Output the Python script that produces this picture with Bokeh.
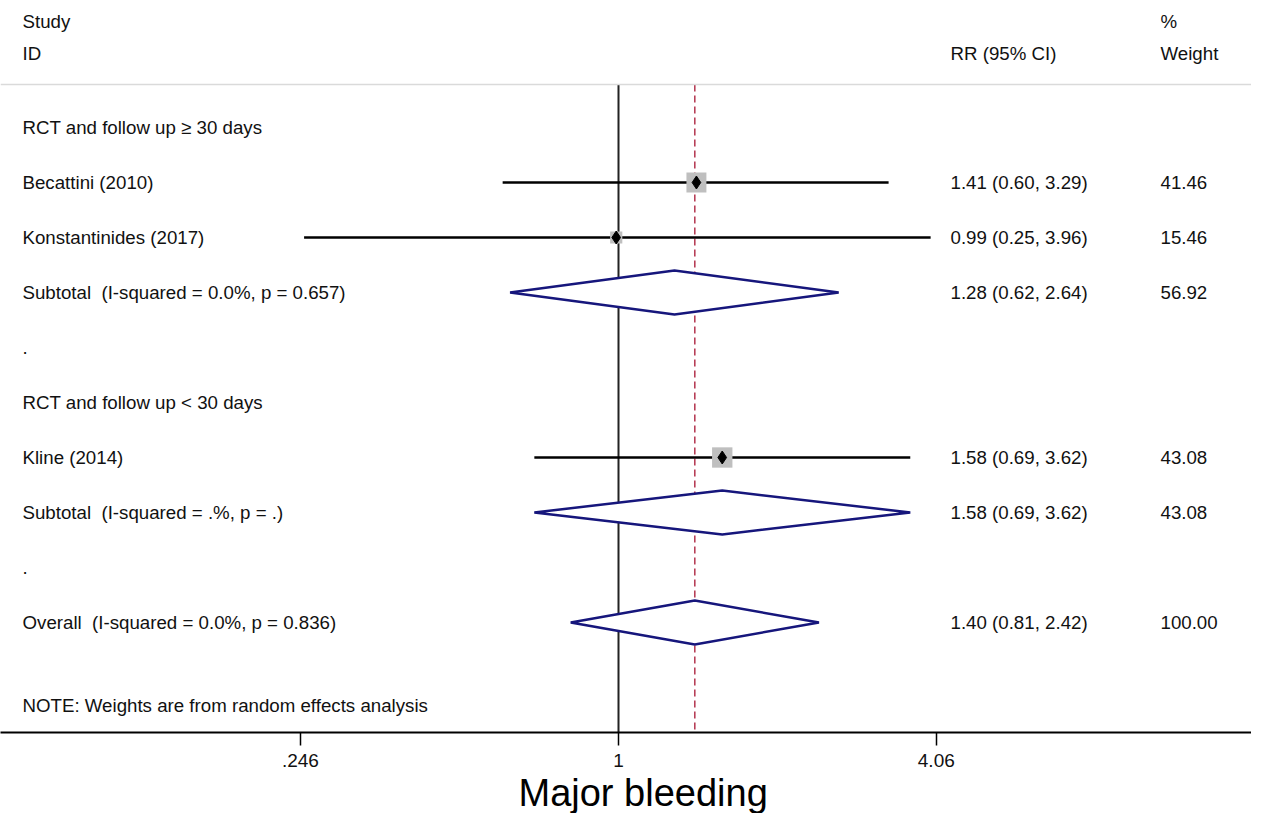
import math
from bokeh.plotting import figure
from bokeh.models import Range1d, FixedTicker, Span, Title
from bokeh.core.properties import value
from bokeh.embed import file_html
from bokeh.resources import INLINE

# ---------------- data ----------------
group_names = ["RCT and follow up \u2265 30 days", "RCT and follow up < 30 days"]
study_names = ["Becattini (2010)", "Konstantinides (2017)", "Kline (2014)"]
study_group = [0, 0, 1]
study_rr = [1.41, 0.99, 1.58]
study_lo = [0.60, 0.25, 0.69]
study_hi = [3.29, 3.96, 3.62]
study_weight = [41.46, 15.46, 43.08]

sub_rr = [1.28, 1.58]
sub_lo = [0.62, 0.69]
sub_hi = [2.64, 3.62]
sub_weight = [56.92, 43.08]
sub_i2 = ["0.0", "."]
sub_p = ["0.657", "."]

overall_rr = 1.40
overall_lo = 0.81
overall_hi = 2.42
overall_weight = 100.00
overall_i2 = "0.0"
overall_p = "0.836"

tick_values = [0.246, 1, 4.06]
tick_labels = [".246", "1", "4.06"]

note_text = "NOTE: Weights are from random effects analysis"
x_title = "Major bleeding"

# ---------------- layout constants ----------------
W, H = 1251, 813
AXIS_PX = 732
BOTTOM = H - AXIS_PX
PX_PER_LN = 226.8
ONE_PX = 618
ROW_PX = 55
ROW0_PX = 127
FONT = "Liberation Sans"
TXT = "#111111"
NAVY = "#16167c"
FS = "18.7px"


def px_to_x(px):
    return math.exp((px - ONE_PX) / PX_PER_LN)


def px_to_row(py):
    return (py - ROW0_PX) / ROW_PX


LEFT_COL = px_to_x(22)
RR_COL = px_to_x(950)
W_COL = px_to_x(1160)
AXIS_ROW = px_to_row(AXIS_PX)

x_range = Range1d(px_to_x(0), px_to_x(W))
y_range = Range1d(AXIS_ROW, px_to_row(0))

p = figure(width=W, height=H, x_axis_type="log", x_range=x_range, y_range=y_range,
           y_axis_location=None, toolbar_location=None, output_backend="svg",
           min_border_left=0, min_border_right=0, min_border_top=0,
           min_border_bottom=BOTTOM)
p.outline_line_color = None
p.xgrid.grid_line_color = None
p.ygrid.grid_line_color = None
p.background_fill_color = "white"
p.border_fill_color = "white"

# ---------------- rows ----------------
left_txt, left_y = [], []
rr_txt, w_txt, col_y = [], [], []
st_x, st_lo, st_hi, st_y, st_w = [], [], [], [], []
dia_xs, dia_ys = [], []


def fmt_ci(r, lo, hi):
    return f"{r:.2f} ({lo:.2f}, {hi:.2f})"


def add_diamond(r, lo, hi, row):
    dia_xs.append([lo, r, hi, r])
    dia_ys.append([row, row - 0.4, row, row + 0.4])


row = 0
for g, gname in enumerate(group_names):
    left_txt.append(gname); left_y.append(row); row += 1
    for i, name in enumerate(study_names):
        if study_group[i] != g:
            continue
        left_txt.append(name); left_y.append(row)
        rr_txt.append(fmt_ci(study_rr[i], study_lo[i], study_hi[i]))
        w_txt.append(f"{study_weight[i]:.2f}"); col_y.append(row)
        st_x.append(study_rr[i]); st_lo.append(study_lo[i]); st_hi.append(study_hi[i])
        st_y.append(row); st_w.append(study_weight[i])
        row += 1
    left_txt.append(f"Subtotal \u00a0(I-squared = {sub_i2[g]}%, p = {sub_p[g]})"); left_y.append(row)
    rr_txt.append(fmt_ci(sub_rr[g], sub_lo[g], sub_hi[g]))
    w_txt.append(f"{sub_weight[g]:.2f}"); col_y.append(row)
    add_diamond(sub_rr[g], sub_lo[g], sub_hi[g], row)
    row += 1
    left_txt.append("."); left_y.append(row); row += 1

left_txt.append(f"Overall \u00a0(I-squared = {overall_i2}%, p = {overall_p})"); left_y.append(row)
rr_txt.append(fmt_ci(overall_rr, overall_lo, overall_hi))
w_txt.append(f"{overall_weight:.2f}"); col_y.append(row)
add_diamond(overall_rr, overall_lo, overall_hi, row)
left_txt.append(note_text); left_y.append(px_to_row(705))

SEP_ROW = px_to_row(84)
HDR1 = px_to_row(21)
HDR2 = px_to_row(53)

# separator line
p.add_layout(Span(location=SEP_ROW, dimension="width", line_color="#dadada", line_width=1.5))

# reference lines
p.segment(x0=[1], y0=[SEP_ROW], x1=[1], y1=[AXIS_ROW], line_color="#222222", line_width=2)
p.segment(x0=[overall_rr], y0=[SEP_ROW], x1=[overall_rr], y1=[AXIS_ROW],
          line_color="#b3334d", line_width=1.5, line_dash="7 4")

# CI lines, weight squares, point markers
p.segment(x0=st_lo, y0=st_y, x1=st_hi, y1=st_y, line_color="black", line_width=2.5)
p.scatter(x=st_x, y=st_y, marker="square", size=[3.1 * math.sqrt(w) for w in st_w],
          fill_color="#bfbfbf", line_color=None)
p.scatter(x=st_x, y=st_y, marker="diamond", size=13, fill_color="black", line_color="black")

# pooled diamonds
p.patches(xs=dia_xs, ys=dia_ys, fill_color="white", line_color=NAVY, line_width=2.5)

# texts
tkw = dict(text_font=value(FONT), text_font_size=value(FS), text_color=TXT,
           text_baseline="middle", text_align="left")
p.text(x=[LEFT_COL] * len(left_txt), y=left_y, text=left_txt, **tkw)
p.text(x=[RR_COL] * len(rr_txt), y=col_y, text=rr_txt, **tkw)
p.text(x=[W_COL] * len(w_txt), y=col_y, text=w_txt, **tkw)
p.text(x=[LEFT_COL, LEFT_COL, RR_COL, W_COL, W_COL], y=[HDR1, HDR2, HDR2, HDR1, HDR2],
       text=["Study", "ID", "RR (95% CI)", "%", "Weight"], **tkw)

# axis
ax = p.xaxis[0]
ax.ticker = FixedTicker(ticks=tick_values)
ax.major_label_overrides = {v: l for v, l in zip(tick_values, tick_labels)}
ax.axis_line_color = "black"
ax.axis_line_width = 2
ax.major_tick_line_color = "black"
ax.major_tick_line_width = 1.5
ax.major_tick_in = 0
ax.major_tick_out = 13
ax.minor_tick_line_color = None
ax.major_label_text_font = FONT
ax.major_label_text_font_size = "19px"
ax.major_label_text_color = TXT
ax.major_label_standoff = 8

# axis title, placed under the axis
p.add_layout(Title(text=x_title, align="left", offset=518, standoff=0,
                   text_font=FONT, text_font_size="38px", text_font_style="normal",
                   text_color="black"), "below")

open("out.html", "w").write(file_html(p, INLINE))
